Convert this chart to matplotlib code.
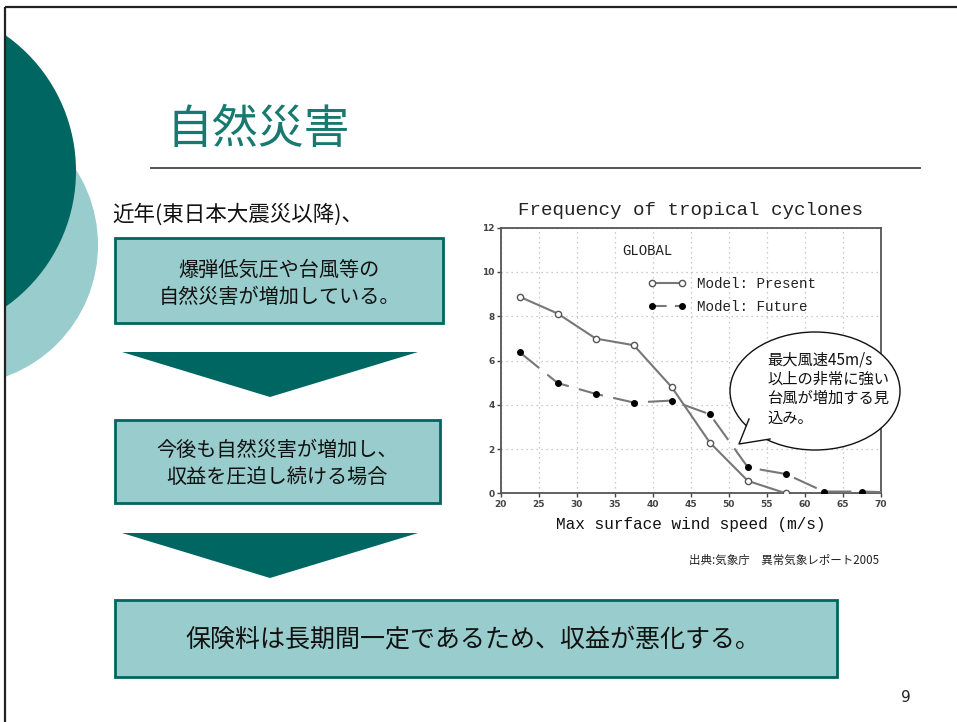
import matplotlib
matplotlib.use("Agg")
import matplotlib.pyplot as plt
from matplotlib.patches import Rectangle, Circle, Ellipse, Polygon

plt.rcParams['font.family'] = ['Noto Sans CJK JP', 'DejaVu Sans']

# ---- data ----
wind_speed = [22.5, 27.5, 32.5, 37.5, 42.5, 47.5, 52.5, 57.5]
present = [8.88, 8.12, 6.99, 6.69, 4.79, 2.29, 0.56, 0.0]
wind_speed_future = [22.5, 27.5, 32.5, 37.5, 42.5, 47.5, 52.5, 57.5, 62.5, 67.5, 72.5]
future = [6.37, 4.98, 4.49, 4.10, 4.19, 3.57, 1.17, 0.87, 0.08, 0.08, 0.03]
x_ticks = [20, 25, 30, 35, 40, 45, 50, 55, 60, 65, 70]
y_ticks = [0, 2, 4, 6, 8, 10, 12]

title = "自然災害"
intro = "近年(東日本大震災以降)、"
box1_text = "爆弾低気圧や台風等の\n自然災害が増加している。"
box2_text = "今後も自然災害が増加し、\n収益を圧迫し続ける場合"
box3_text = "保険料は長期間一定であるため、収益が悪化する。"
callout_text = "最大風速45m/s\n以上の非常に強い\n台風が増加する見\n込み。"
source_text = "出典:気象庁　異常気象レポート2005"
page_no = "9"

DARK = "#006661"
LIGHT = "#99CCCC"
TITLE_C = "#167A70"
MONO = "Liberation Mono"

W, H = 957, 722
fig = plt.figure(figsize=(W / 100, H / 100), dpi=100)
fig.patch.set_facecolor("white")

# ---- chart ----
L, R, T, B = 500.7, 881.0, 227.7, 493.3
ax = fig.add_axes([L / W, (H - B) / H, (R - L) / W, (B - T) / H])
ax.set_xlim(20, 70)
ax.set_ylim(0, 12)
ax.set_xticks(x_ticks)
ax.set_yticks(y_ticks)
ax.tick_params(labelsize=6.5, colors="#444", length=3, width=1, pad=1.5)
for lab in ax.get_xticklabels() + ax.get_yticklabels():
    lab.set_fontweight("bold")
    lab.set_family("DejaVu Sans")
for s in ax.spines.values():
    s.set_color("#555")
    s.set_linewidth(1.3)
ax.grid(True, linestyle=(0, (1, 3)), color="#bbbbbb", linewidth=0.9)

ax.plot(wind_speed, present, color="#777777", lw=1.5, marker="o", ms=4.5,
        mfc="white", mec="#555555", mew=1.0, label="Model: Present", zorder=3)
ax.plot(wind_speed_future, future, color="#777777", lw=1.5, dashes=(12, 5),
        marker="o", ms=4, mfc="black", mec="black", label="Model: Future", zorder=3)

ax.text(0.5, 1.0666, "Frequency of tropical cyclones", transform=ax.transAxes,
        ha="center", va="center", fontsize=13.8, family=MONO, color="#222")
ax.set_xlabel("Max surface wind speed (m/s)", fontsize=11.6, family=MONO, color="#111")
ax.xaxis.set_label_coords(0.5, -0.119)
ax.xaxis.label.set_va("center")
ax.text(0.319, 0.912, "GLOBAL", transform=ax.transAxes, ha="left", va="center",
        fontsize=10, family=MONO, color="#222")
leg = ax.legend(loc="upper left", bbox_to_anchor=(0.387, 0.815), frameon=False,
                prop={"family": MONO, "size": 10.3},
                handlelength=2.7, numpoints=2,
                handletextpad=0.7, borderpad=0, borderaxespad=0, labelspacing=0.64)
for t in leg.get_texts():
    t.set_color("#222")
leg.legend_handles[1].set_dashes((7, 4))

# ---- slide overlay ----
ov = fig.add_axes([0, 0, 1, 1])
ov.set_xlim(0, W)
ov.set_ylim(H, 0)
ov.axis("off")
ov.patch.set_alpha(0)

clip = Rectangle((5, 7), W, H, transform=ov.transData)
c_light = Circle((-42, 245), 140, facecolor=LIGHT, edgecolor="none")
c_dark = Circle((-90, 171), 166, facecolor=DARK, edgecolor="none")
for c in (c_light, c_dark):
    ov.add_patch(c)
    c.set_clip_path(clip)

ov.plot([5, 5], [7, H], color="#222", lw=1.6, solid_capstyle="butt")
ov.plot([5, W], [7, 7], color="#222", lw=1.6, solid_capstyle="butt")

ov.text(258, 130, title, ha="center", va="center", fontsize=33, color=TITLE_C)
ov.plot([151, 920], [168, 168], color="#555", lw=1.4)
ov.text(112, 215, intro, ha="left", va="center", fontsize=15.5, color="#111")

ov.add_patch(Rectangle((115, 238), 328, 85, facecolor=LIGHT, edgecolor=DARK, lw=2))
ov.text(279, 284, box1_text, ha="center", va="center", fontsize=14.5,
        color="#111", linespacing=1.35)
ov.add_patch(Polygon([(122, 352), (418, 352), (270, 397)], closed=True,
                     facecolor=DARK, edgecolor="none"))
ov.add_patch(Rectangle((115, 420), 325, 83, facecolor=LIGHT, edgecolor=DARK, lw=2))
ov.text(277, 464, box2_text, ha="center", va="center", fontsize=14.5,
        color="#111", linespacing=1.35)
ov.add_patch(Polygon([(122, 533), (418, 533), (270, 578)], closed=True,
                     facecolor=DARK, edgecolor="none"))
ov.add_patch(Rectangle((115, 600), 722, 77, facecolor=LIGHT, edgecolor=DARK, lw=2))
ov.text(473, 640, box3_text, ha="center", va="center", fontsize=18, color="#111")

# callout
ov.add_patch(Ellipse((815, 391), 170, 118, facecolor="white", edgecolor="#111", lw=1.0, zorder=5))
ov.add_patch(Polygon([(749, 419), (739, 444), (770, 439)], closed=True,
                     facecolor="white", edgecolor="none", zorder=6))
ov.plot([749, 739, 770], [419, 444, 439], color="#111", lw=1.0, zorder=7)
ov.text(767, 389, callout_text, ha="left", va="center", fontsize=11,
        color="#111", linespacing=1.18, zorder=8)

ov.text(784, 560, source_text, ha="center", va="center", fontsize=8.3, color="#222")
ov.text(906, 698, page_no, ha="center", va="center", fontsize=11,
        family="DejaVu Sans", color="#222")

fig.savefig("out.png", dpi=100)
